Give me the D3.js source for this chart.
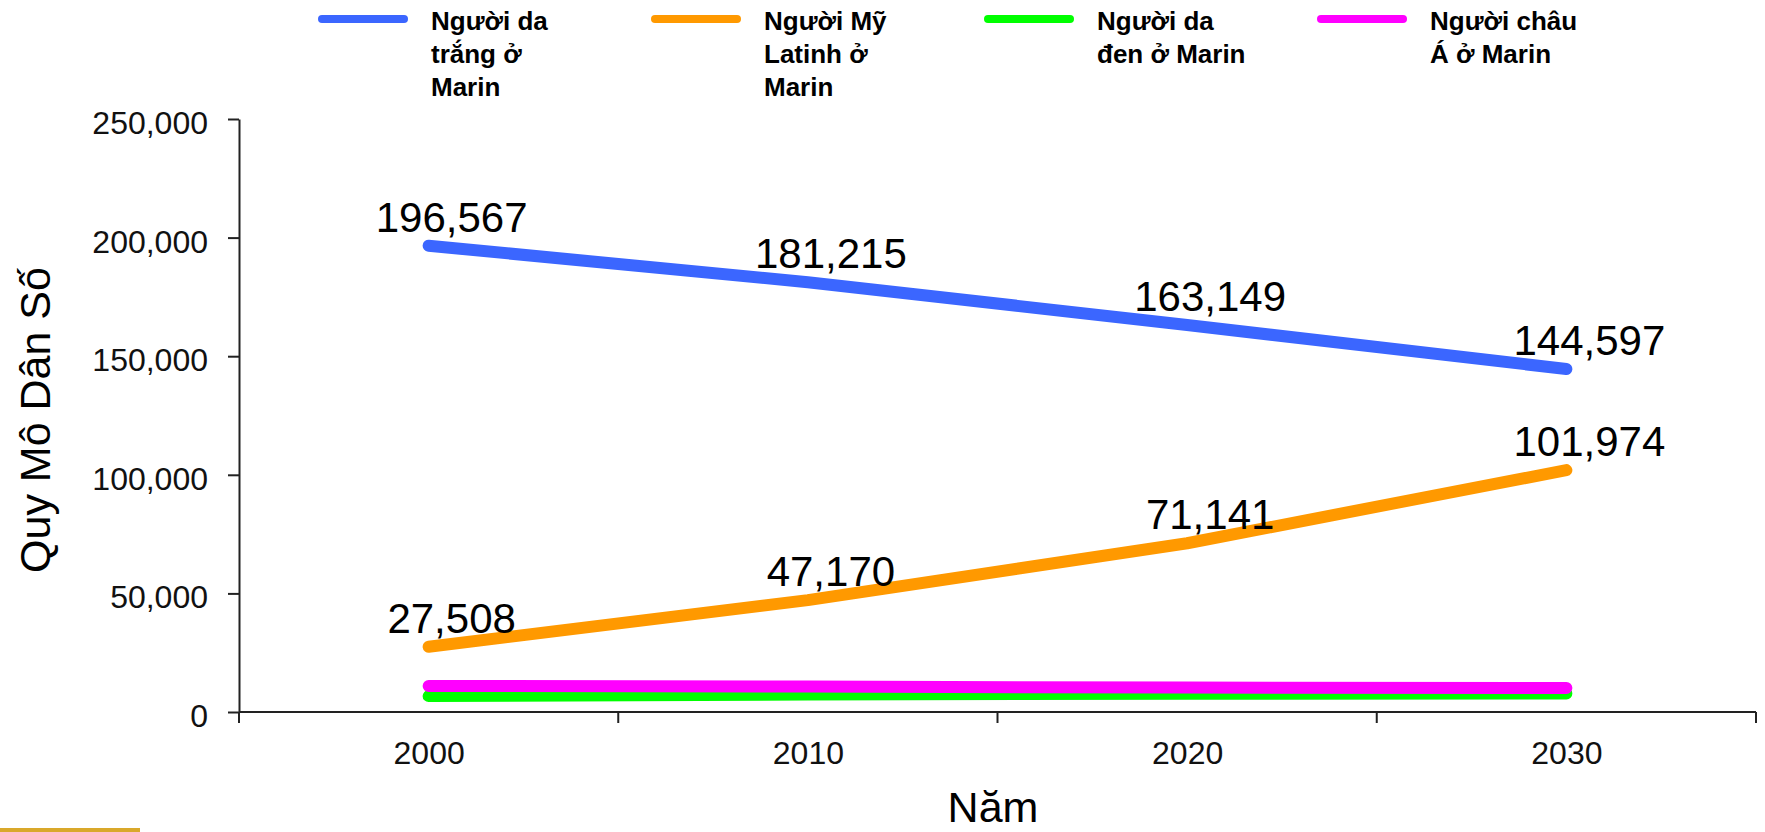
<!DOCTYPE html>
<html>
<head>
<meta charset="utf-8">
<script src="https://cdn.jsdelivr.net/npm/d3@7"></script>
<style>
    html, body { margin: 0; padding: 0; background: #fff; }
    svg { display: block; font-family: "Liberation Sans", Arial, sans-serif; }
</style>
</head>
<body>
<div id="chart"></div>
<script>
const years = ["2000", "2010", "2020", "2030"];
const seriesNames = [
    ["Người da", "trắng ở", "Marin"],
    ["Người Mỹ", "Latinh ở", "Marin"],
    ["Người da", "đen ở Marin"],
    ["Người châu", "Á ở Marin"]
];
const whiteValues = [196567, 181215, 163149, 144597];
const latinoValues = [27508, 47170, 71141, 101974];
const blackValues = [6700, 7400, 7700, 7800];
const asianValues = [11000, 10700, 10300, 10100];
const seriesColors = ["#3b66ff", "#ff9900", "#00ff00", "#ff00ff"];
const yTicks = [0, 50000, 100000, 150000, 200000, 250000];

const width = 1765, height = 832;
const plot = { left: 239, right: 1756, top: 119, bottom: 712 };

const series = [
    { name: seriesNames[0], values: whiteValues, color: seriesColors[0], labels: true },
    { name: seriesNames[1], values: latinoValues, color: seriesColors[1], labels: true },
    { name: seriesNames[2], values: blackValues, color: seriesColors[2], labels: false },
    { name: seriesNames[3], values: asianValues, color: seriesColors[3], labels: false }
];

const svg = d3.select("#chart")
    .append("svg")
    .attr("width", width)
    .attr("height", height);

const x = d3.scalePoint()
    .domain(years)
    .range([plot.left, plot.right])
    .padding(0.5);

const band = d3.scaleBand()
    .domain(years)
    .range([plot.left, plot.right]);

const y = d3.scaleLinear()
    .domain([0, 250000])
    .range([plot.bottom, plot.top]);

// y axis
const yAxis = svg.append("g")
    .attr("transform", `translate(${plot.left},0)`)
    .call(d3.axisLeft(y)
        .tickValues(yTicks)
        .tickFormat(d3.format(","))
        .tickSize(11)
        .tickSizeOuter(0)
        .tickPadding(20));
yAxis.select(".domain").attr("stroke", "#222").attr("stroke-width", 2);
yAxis.selectAll(".tick line").attr("stroke", "#222").attr("stroke-width", 2);
yAxis.selectAll(".tick text")
    .attr("fill", "#111")
    .attr("dy", "0.45em")
    .style("font-size", "32px")
    .style("font-family", "'Liberation Sans', Arial, sans-serif");

// x axis: labels on points, tick marks on band edges
const xAxis = svg.append("g")
    .attr("transform", `translate(0,${plot.bottom})`)
    .call(d3.axisBottom(x).tickSize(0).tickPadding(29));
xAxis.select(".domain")
    .attr("d", `M${plot.left},0H${plot.right}`)
    .attr("stroke", "#222").attr("stroke-width", 2);
xAxis.selectAll(".tick text")
    .attr("fill", "#111")
    .style("font-size", "32px")
    .style("font-family", "'Liberation Sans', Arial, sans-serif");

const edges = years.map(d => band(d)).concat([band.range()[1]]);
xAxis.selectAll(".edge")
    .data(edges)
    .enter()
    .append("line")
    .attr("class", "edge")
    .attr("x1", d => d).attr("x2", d => d)
    .attr("y1", 0).attr("y2", 11)
    .attr("stroke", "#222")
    .attr("stroke-width", 2);

// lines
const line = d3.line()
    .x((d, i) => x(years[i]))
    .y(d => y(d));

svg.selectAll(".series")
    .data(series)
    .enter()
    .append("path")
    .attr("class", "series")
    .attr("d", d => line(d.values))
    .attr("fill", "none")
    .attr("stroke", d => d.color)
    .attr("stroke-width", 12)
    .attr("stroke-linecap", "round")
    .attr("stroke-linejoin", "round");

// value labels
series.filter(s => s.labels).forEach(s => {
    svg.selectAll(null)
        .data(s.values)
        .enter()
        .append("text")
        .attr("x", (d, i) => x(years[i]) + 23)
        .attr("y", d => y(d) - 14)
        .attr("text-anchor", "middle")
        .attr("fill", "#000")
        .style("font-size", "42px")
        .text(d => d3.format(",")(d));
});

// axis titles
svg.append("text")
    .attr("transform", `translate(50,420) rotate(-90)`)
    .attr("text-anchor", "middle")
    .attr("fill", "#000")
    .style("font-size", "43px")
    .text("Quy Mô Dân Số");

svg.append("text")
    .attr("x", 993)
    .attr("y", 822)
    .attr("text-anchor", "middle")
    .attr("fill", "#000")
    .style("font-size", "43px")
    .text("Năm");

// legend
const legend = svg.selectAll(".legend")
    .data(series)
    .enter()
    .append("g")
    .attr("class", "legend")
    .attr("transform", (d, i) => `translate(${318 + i * 333},0)`);

legend.append("line")
    .attr("x1", 4).attr("x2", 86)
    .attr("y1", 19).attr("y2", 19)
    .attr("stroke", d => d.color)
    .attr("stroke-width", 8)
    .attr("stroke-linecap", "round");

legend.append("text")
    .attr("x", 113)
    .attr("y", 30)
    .attr("fill", "#000")
    .style("font-size", "26px")
    .style("font-weight", "bold")
    .selectAll("tspan")
    .data(d => d.name)
    .enter()
    .append("tspan")
    .attr("x", 113)
    .attr("dy", (d, i) => i === 0 ? 0 : 33)
    .text(d => d);

// small gold bar bottom-left
svg.append("rect")
    .attr("x", 0).attr("y", 828)
    .attr("width", 140).attr("height", 4)
    .attr("fill", "#d9a82a");
</script>
</body>
</html>
